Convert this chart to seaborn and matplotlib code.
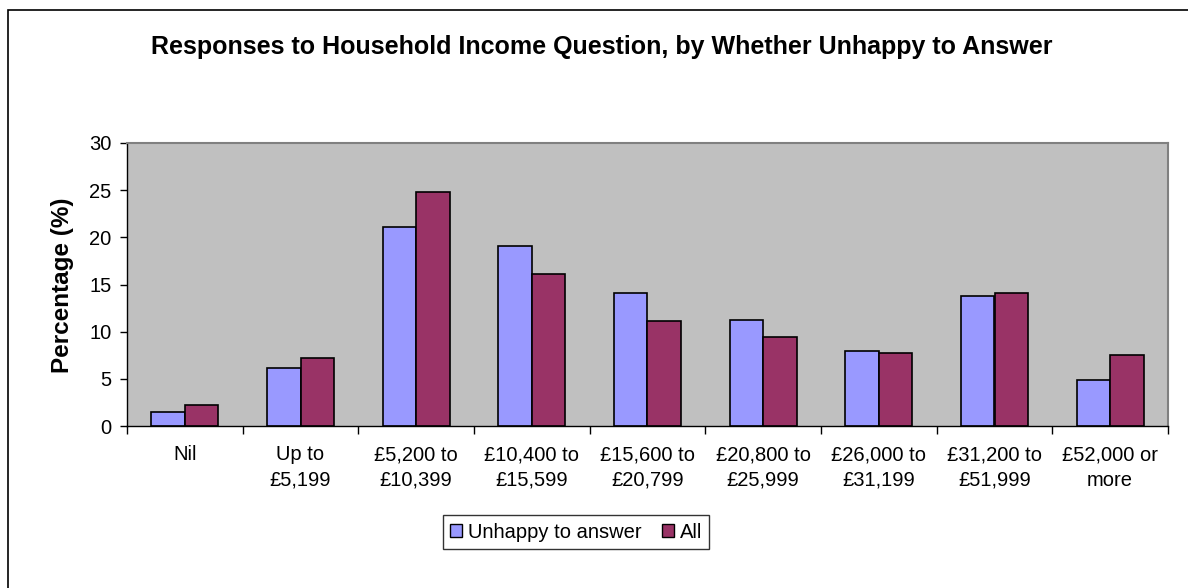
import matplotlib
matplotlib.use("Agg")
import matplotlib.pyplot as plt
import seaborn as sns
import pandas as pd
from matplotlib.patches import Rectangle
from matplotlib.ticker import FixedLocator

categories = ["Nil", "Up to\n£5,199", "£5,200 to\n£10,399", "£10,400 to\n£15,599",
              "£15,600 to\n£20,799", "£20,800 to\n£25,999", "£26,000 to\n£31,199",
              "£31,200 to\n£51,999", "£52,000 or\nmore"]
unhappy = [1.5, 6.2, 21.1, 19.1, 14.1, 11.2, 8.0, 13.8, 4.9]
all_resp = [2.2, 7.2, 24.8, 16.1, 11.1, 9.4, 7.7, 14.1, 7.5]
series_names = ["Unhappy to answer", "All"]
y_ticks = [0, 5, 10, 15, 20, 25, 30]

df = pd.DataFrame({
    "cat": categories * 2,
    "series": [series_names[0]] * len(categories) + [series_names[1]] * len(categories),
    "val": unhappy + all_resp,
})

sns.set_style("white")
plt.rcParams["font.family"] = ["Liberation Sans", "DejaVu Sans"]
for k in ["text.color", "axes.labelcolor", "xtick.color", "ytick.color"]:
    plt.rcParams[k] = "black"

fig = plt.figure(figsize=(11.88, 5.88), dpi=100)
fig.patches.append(Rectangle((8 / 1188, -0.05), 1.2, 1 - 10 / 588 + 0.05,
                             transform=fig.transFigure, fill=False,
                             edgecolor="black", linewidth=1.2, zorder=0))

ax = fig.add_axes([127 / 1188, 1 - 426 / 588, (1168 - 127) / 1188, (426 - 143) / 588])
ax.set_facecolor("#C0C0C0")

sns.barplot(data=df, x="cat", y="val", hue="series", order=categories,
            hue_order=series_names, palette=["#9999FF", "#993366"],
            saturation=1, edgecolor="black", linewidth=1.2, width=0.58,
            ax=ax, legend=False)

ax.set_xlim(-0.5, len(categories) - 0.5)
ax.set_ylim(0, 30)
ax.set_yticks(y_ticks)
ax.set_xlabel("")
ax.set_ylabel("")
ax.tick_params(axis="y", which="major", direction="out", length=5, width=1,
               color="black", labelsize=14.5, pad=6, left=True)
ax.tick_params(axis="x", which="major", length=0, labelsize=14.5, pad=14)
ax.xaxis.set_minor_locator(FixedLocator([i - 0.5 for i in range(len(categories) + 1)]))
ax.tick_params(axis="x", which="minor", direction="out", length=6, width=1,
               color="black", bottom=True)
for lbl in ax.get_xticklabels():
    lbl.set_linespacing(1.42)

for side in ["top", "right"]:
    ax.spines[side].set_color("#808080")
    ax.spines[side].set_linewidth(1.5)
for side in ["left", "bottom"]:
    ax.spines[side].set_color("black")
    ax.spines[side].set_linewidth(1.0)

fig.text(602 / 1188, 1 - 47 / 588,
         "Responses to Household Income Question, by Whether Unhappy to Answer",
         ha="center", va="center", fontsize=18, fontweight="bold")
fig.text(63 / 1188, 1 - 285 / 588, "Percentage (%)", rotation=90,
         ha="center", va="center", fontsize=17.5, fontweight="bold")

handles = [Rectangle((0, 0), 1, 1, facecolor=c, edgecolor="black", linewidth=1.0)
           for c in ["#9999FF", "#993366"]]
leg = fig.legend(handles, series_names, loc="center", ncol=2,
                 bbox_to_anchor=(576 / 1188, 1 - 532 / 588), fontsize=14.5,
                 frameon=True, fancybox=False, edgecolor="black",
                 handlelength=0.6, handleheight=0.6, handletextpad=0.3,
                 columnspacing=1.0, borderpad=0.35)
leg.get_frame().set_linewidth(1.0)

fig.savefig("out.png", dpi=100)
